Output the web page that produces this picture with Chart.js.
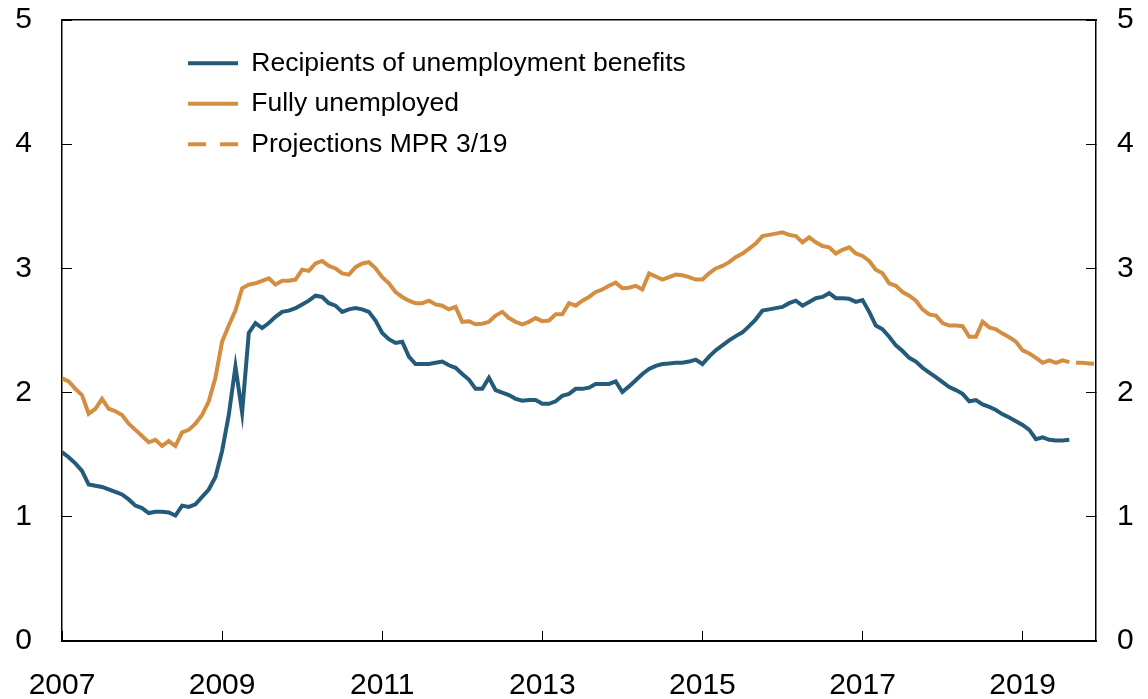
<!DOCTYPE html>
<html>
<head>
<meta charset="utf-8">
<script src="https://cdn.jsdelivr.net/npm/chart.js@4"></script>
<style>
    body { margin: 0; background: #fff; }
    #wrap { width: 1148px; height: 699px; }
</style>
</head>
<body>
<div id="wrap"><canvas id="myChart"></canvas></div>
<script>
// Unemployment, percent of labour force. Monthly from Jan 2007.

const startYear = 2007;
const yearTicks = [2007, 2009, 2011, 2013, 2015, 2017, 2019];

// Recipients of unemployment benefits (Jan 2007 - Aug 2019)
const benefits = [
    1.52, 1.48, 1.43, 1.37, 1.26, 1.25, 1.24, 1.22, 1.20, 1.18, 1.14, 1.09,
    1.07, 1.03, 1.04, 1.04, 1.035, 1.01, 1.09, 1.08, 1.10, 1.16, 1.22, 1.32,
    1.53, 1.82, 2.21, 1.84, 2.48, 2.56, 2.52, 2.56, 2.61, 2.65, 2.66, 2.68,
    2.71, 2.74, 2.78, 2.77, 2.72, 2.70, 2.65, 2.67, 2.68, 2.67, 2.65, 2.58,
    2.48, 2.43, 2.40, 2.41, 2.29, 2.23, 2.23, 2.23, 2.24, 2.25, 2.22, 2.20,
    2.15, 2.105, 2.03, 2.03, 2.12, 2.02, 2.00, 1.98, 1.95, 1.935, 1.94, 1.94,
    1.91, 1.91, 1.93, 1.975, 1.99, 2.03, 2.03, 2.04, 2.07, 2.07, 2.07, 2.09,
    2.005, 2.05, 2.10, 2.15, 2.19, 2.215, 2.23, 2.234, 2.24, 2.24, 2.25, 2.266,
    2.23, 2.29, 2.34, 2.38, 2.42, 2.455, 2.485, 2.535, 2.59, 2.66, 2.67, 2.68,
    2.69, 2.72, 2.74, 2.70, 2.73, 2.76, 2.77, 2.80, 2.76, 2.76, 2.755, 2.73,
    2.745, 2.65, 2.54, 2.51, 2.45, 2.38, 2.335, 2.28, 2.25, 2.20, 2.16, 2.125,
    2.085, 2.045, 2.02, 1.99, 1.93, 1.94, 1.905, 1.885, 1.86, 1.825, 1.80, 1.77,
    1.74, 1.70, 1.625, 1.64, 1.62, 1.615, 1.615, 1.62
];

// Fully unemployed (Jan 2007 - Aug 2019)
const fullyUnemployed = [
    2.115, 2.09, 2.03, 1.98, 1.83, 1.87, 1.95, 1.87, 1.85, 1.82, 1.75, 1.70,
    1.65, 1.60, 1.62, 1.57, 1.61, 1.57, 1.68, 1.70, 1.75, 1.82, 1.93, 2.12,
    2.41, 2.54, 2.66, 2.84, 2.87, 2.88, 2.90, 2.92, 2.87, 2.90, 2.90, 2.91,
    2.99, 2.98, 3.04, 3.06, 3.02, 3.00, 2.96, 2.95, 3.01, 3.04, 3.05, 3.00,
    2.93, 2.88, 2.81, 2.77, 2.74, 2.72, 2.72, 2.74, 2.71, 2.70, 2.67, 2.69,
    2.57, 2.575, 2.55, 2.555, 2.57, 2.62, 2.65, 2.60, 2.57, 2.55, 2.57, 2.60,
    2.575, 2.58, 2.63, 2.63, 2.72, 2.70, 2.74, 2.77, 2.81, 2.83, 2.86, 2.885,
    2.84, 2.845, 2.86, 2.83, 2.96, 2.935, 2.91, 2.93, 2.95, 2.945, 2.93, 2.91,
    2.91, 2.96, 3.00, 3.02, 3.05, 3.09, 3.12, 3.16, 3.20, 3.26, 3.27, 3.28,
    3.29, 3.27, 3.26, 3.21, 3.25, 3.21, 3.18, 3.17, 3.12, 3.15, 3.17, 3.12,
    3.10, 3.06, 2.99, 2.96, 2.88, 2.86, 2.81, 2.78, 2.74, 2.67, 2.63, 2.62,
    2.56, 2.54, 2.54, 2.535, 2.45, 2.45, 2.57, 2.525, 2.51, 2.475, 2.445, 2.41,
    2.34, 2.315, 2.28, 2.24, 2.26, 2.24, 2.26, 2.245
];

// Projections MPR 3/19 (Sep 2019 - Dec 2019)
const projStart = 152;     // month index of first projected value
const projection = [2.24, 2.24, 2.235, 2.23];

const blue = '#245b7b';
const orange = '#d38e42';
const fontFamily = "'Liberation Sans', Arial, Helvetica, sans-serif";

// month index -> fractional year on the x axis
function toPoints(values, offset) {
    return values.map((v, i) => ({ x: startYear + (offset + i) / 12, y: v }));
}

// put the legend inside the plot, top-left
const legendPlace = {
    id: 'legendPlace',
    afterLayout(chart) {
        const area = chart.chartArea;
        const lg = chart.legend;
        lg.left = area.left + 112;
        lg.top = area.top + 16;
        lg.right = area.right;
        lg.bottom = area.bottom;
    }
};

// legend lines take colour, width and dash from the dataset itself
function legendLabels(chart) {
    const items = Chart.defaults.plugins.legend.labels.generateLabels(chart);
    items.forEach(item => {
        const ds = chart.data.datasets[item.datasetIndex];
        item.strokeStyle = ds.borderColor;
        item.lineWidth = ds.borderWidth;
        item.lineDash = ds.borderDash || [];
        item.lineDashOffset = 0;
    });
    return items;
}

// no extra room for the end labels, the frame is fixed
function noPad(scale) {
    scale.paddingTop = 0;
    scale.paddingBottom = 0;
    scale.paddingLeft = 0;
    scale.paddingRight = 0;
}

const tickFont = { family: fontFamily, size: 30 };

function createChart() {
    const ctx = document.getElementById('myChart');
    new Chart(ctx, {
        type: 'line',
        data: {
            datasets: [
                {
                    label: 'Recipients of unemployment benefits',
                    data: toPoints(benefits, 0),
                    borderColor: blue,
                    borderWidth: 4,
                    pointRadius: 0,
                    tension: 0
                },
                {
                    label: 'Fully unemployed',
                    data: toPoints(fullyUnemployed, 0),
                    borderColor: orange,
                    borderWidth: 4,
                    pointRadius: 0,
                    tension: 0
                },
                {
                    label: 'Projections MPR 3/19',
                    data: toPoints(projection, projStart),
                    borderColor: orange,
                    borderWidth: 4,
                    borderDash: [18, 14],
                    pointRadius: 0,
                    tension: 0
                }
            ]
        },
        options: {
            responsive: true,
            maintainAspectRatio: false,
            animation: false,
            layout: { padding: 0, autoPadding: false },
            scales: {
                x: {
                    type: 'linear',
                    position: 'bottom',
                    min: startYear,
                    max: startYear + 155 / 12,
                    afterBuildTicks: (axis) => { axis.ticks = yearTicks.map(v => ({ value: v })); },
                    afterFit: (scale) => { scale.height = 58; noPad(scale); },
                    ticks: {
                        color: '#000',
                        font: tickFont,
                        padding: 37,
                        maxRotation: 0,
                        callback: (v) => String(v)
                    },
                    grid: { drawOnChartArea: false, tickLength: -10, color: '#000', lineWidth: 1 },
                    border: { color: '#000', width: 2 }
                },
                xTop: {
                    type: 'linear',
                    position: 'top',
                    min: startYear,
                    max: startYear + 155 / 12,
                    afterFit: (scale) => { scale.height = 20; noPad(scale); },
                    ticks: { display: false },
                    grid: { display: false },
                    border: { color: '#000', width: 1.5 }
                },
                y: {
                    position: 'left',
                    min: 0,
                    max: 5,
                    afterFit: (scale) => { scale.width = 62; noPad(scale); },
                    ticks: { stepSize: 1, color: '#000', font: tickFont, padding: 40 },
                    grid: { drawOnChartArea: false, tickLength: -10, color: '#000', lineWidth: 1 },
                    border: { color: '#000', width: 1.5 }
                },
                y2: {
                    position: 'right',
                    min: 0,
                    max: 5,
                    afterFit: (scale) => { scale.width = 52; noPad(scale); },
                    ticks: { stepSize: 1, color: '#000', font: tickFont, padding: 31 },
                    grid: { drawOnChartArea: false, tickLength: -10, color: '#000', lineWidth: 1 },
                    border: { color: '#000', width: 1.5 }
                }
            },
            plugins: {
                legend: {
                    position: 'chartArea',
                    align: 'start',
                    labels: {
                        usePointStyle: true,
                        pointStyle: 'line',
                        pointStyleWidth: 50,
                        color: '#000',
                        padding: 14,
                        font: { family: fontFamily, size: 26.5 },
                        generateLabels: legendLabels
                    }
                },
                tooltip: { enabled: false }
            }
        },
        plugins: [legendPlace]
    });
}

createChart();
</script>
</body>
</html>
